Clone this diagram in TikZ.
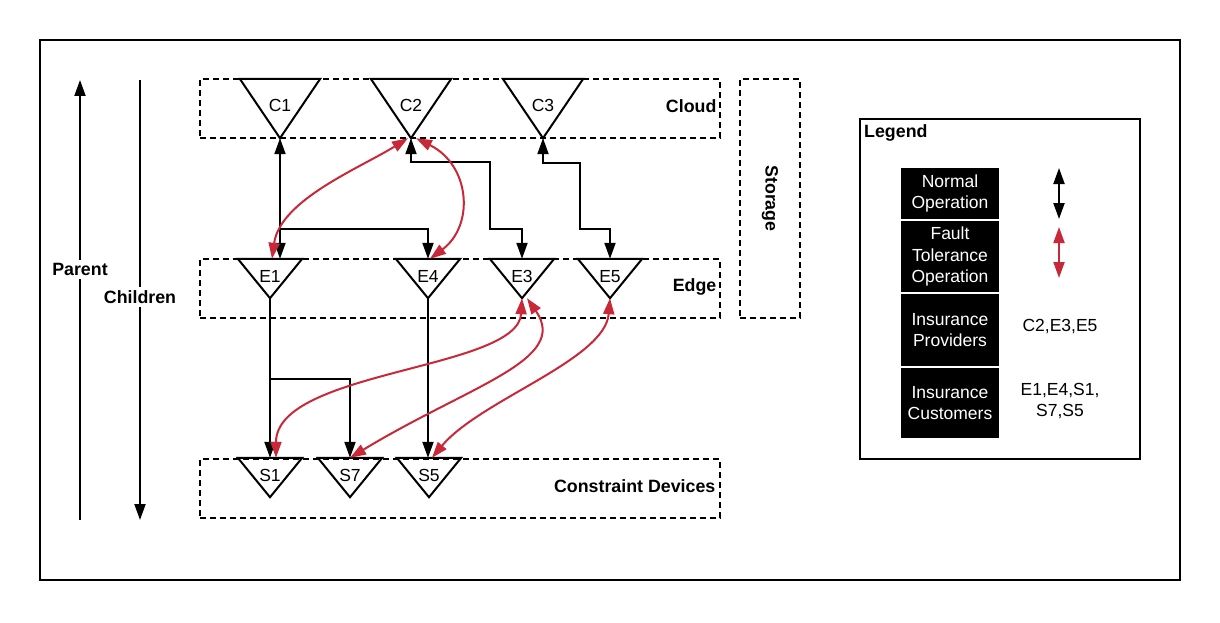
\documentclass[tikz,border=0pt]{standalone}
\usepackage{fontspec}
\setmainfont{Liberation Sans}
\usetikzlibrary{arrows.meta,positioning}
\definecolor{ftred}{RGB}{200,40,55}
\tikzset{
    tri/.style = {inner sep=0pt, font=\fontsize{17.5}{20}\selectfont,
        append after command={\pgfextra{\draw[line width=2pt]
            (\tikzlastnode.north west) -- (\tikzlastnode.north east) -- (\tikzlastnode.south) -- cycle;}}},
    cloud-tri/.style = {tri, minimum width=80pt, minimum height=59pt, text depth=6pt},
    edge-tri/.style = {tri, minimum width=64pt, minimum height=39pt, text depth=4pt},
    group-box/.style = {draw, line width=1.8pt, dash pattern=on 6pt off 4pt, inner sep=0pt, minimum height=59pt},
    group-label/.style = {font=\fontsize{17.8}{20}\selectfont\bfseries},
    normal-op/.style = {line width=2pt, {Triangle[length=16pt,width=11pt]}-{Triangle[length=16pt,width=11pt]}},
    to-child/.style = {line width=2pt, -{Triangle[length=16pt,width=11pt]}},
    fault-op/.style = {ftred, line width=2pt, {Triangle[length=16pt,width=11pt]}-{Triangle[length=16pt,width=11pt]}},
    leg-box/.style = {fill=black, text=white, minimum width=98pt, inner sep=0pt, align=center, font=\fontsize{17.5}{21.5}\selectfont},
    leg-text/.style = {align=center, font=\fontsize{17.5}{21.5}\selectfont},
}
\begin{document}
\begin{tikzpicture}[x=1pt, y=-1pt]
\useasboundingbox (0,0) rectangle (1220,623);
\draw[line width=2pt] (40,40) rectangle (1180,580);

% layers
\node[group-box, minimum width=520pt] (cloud) at (460,108.5) {};
\node[group-box, minimum width=520pt] (edge) at (460,288.5) {};
\node[group-box, minimum width=520pt] (devices) at (460,488.5) {};
\node[group-box, minimum width=60pt, minimum height=239pt] (storage) at (770,198.5) {};
\node[group-label, left=1pt] at ([yshift=2pt]cloud.east) {Cloud};
\node[group-label, left=1pt] at ([yshift=2pt]edge.east) {Edge};
\node[group-label, left=2pt] at ([yshift=2pt]devices.east) {Constraint Devices};
\node[group-label, rotate=-90] at (storage) {Storage};

% parent / children
\coordinate (parent-bot) at (80,520);
\coordinate (parent-top) at (80,80);
\coordinate (child-top) at (140,80);
\coordinate (child-bot) at (140,520);
\draw[to-child] (parent-bot) -- node[pos=0.57, fill=white, group-label] {Parent} (parent-top);
\draw[to-child] (child-top) -- node[pos=0.493, fill=white, group-label] {Children} (child-bot);

% nodes
\node[cloud-tri] (C1) at (280,108.5) {C1};
\node[cloud-tri] (C2) at (411,108.5) {C2};
\node[cloud-tri] (C3) at (543,108.5) {C3};
\node[edge-tri] (E1) at (270,278.5) {E1};
\node[edge-tri] (E4) at (428,278.5) {E4};
\node[edge-tri] (E3) at (522,278.5) {E3};
\node[edge-tri] (E5) at (610,278.5) {E5};
\node[edge-tri] (S1) at (270,477.5) {S1};
\node[edge-tri] (S7) at (350,477.5) {S7};
\node[edge-tri] (S5) at (429,477.5) {S5};

% normal operation
\coordinate (c1-split) at (280,229);
\coordinate (e1-split) at (270,379);
\draw[normal-op] (C1.south) -- (C1.south |- E1.north);
\draw[to-child] (c1-split) -| (E4.north);
\draw[normal-op] (C2.south) |- (490,162) -- (490,229) -| (E3.north);
\draw[normal-op] (C3.south) |- (580,163) -- (580,229) -| (E5.north);
\draw[to-child] (E1.south) -- (S1.north);
\draw[to-child] (e1-split) -| (S7.north);
\draw[to-child] (E4.south) -- (E4.south |- S5.north);

% fault tolerance operation
\draw[fault-op] ([xshift=-3pt]C2.south) .. controls (360,168) and (280,200) .. ([xshift=2pt]E1.north);
\draw[fault-op] ([xshift=5pt]C2.south) .. controls (470,165) and (475,225) .. ([xshift=2pt]E4.north);
\draw[fault-op] (E3.south) .. controls (518,370) and (276,370) .. ([xshift=6pt]S1.north);
\draw[fault-op] ([xshift=5pt]E3.south) .. controls (570,360) and (470,385) .. (S7.north);
\draw[fault-op] (E5.south) .. controls (605,360) and (480,400) .. ([xshift=3pt]S5.north);

% legend
\node[draw, line width=2pt, minimum width=280pt, minimum height=340pt, inner sep=0pt] (legend) at (1000,289) {};
\node[group-label, anchor=north west, inner sep=0pt] at ([shift={(5pt,-6pt)}]legend.north west) {Legend};
\node[leg-box, minimum height=51pt] (normal-box) at (950,193.5) {Normal\\Operation};
\node[leg-box, minimum height=71pt] (fault-box) at (950,256.5) {Fault\\Tolerance\\Operation};
\node[leg-box, minimum height=72pt] (providers-box) at (950,330) {Insurance\\Providers};
\node[leg-box, minimum height=70pt] (customers-box) at (950,403) {Insurance\\Customers};
\coordinate (normal-top) at (1059,168);
\coordinate (normal-bot) at (1059,219);
\coordinate (fault-top) at (1059,227);
\coordinate (fault-bot) at (1059,278);
\draw[normal-op] (normal-top) -- (normal-bot);
\draw[fault-op] (fault-top) -- (fault-bot);
\node[leg-text] (providers-list) at (1060,327) {C2,E3,E5};
\node[leg-text] (customers-list) at (1060,401) {E1,E4,S1,\\S7,S5};
\end{tikzpicture}
\end{document}
